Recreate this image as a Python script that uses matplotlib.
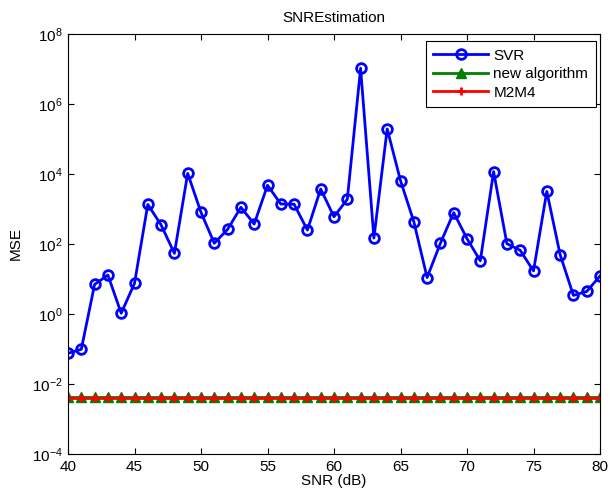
import numpy as np
import matplotlib.pyplot as plt
from matplotlib.ticker import FixedLocator, NullLocator, LogFormatterMathtext

plt.rcParams['font.family'] = ['Liberation Sans', 'DejaVu Sans']
plt.rcParams['mathtext.fontset'] = 'custom'
plt.rcParams['mathtext.rm'] = 'Liberation Sans'

snr = np.arange(40, 81)
mse_svr = [0.075, 0.098, 7.0, 13.0, 1.05, 7.5, 1350, 350, 54, 10400,
           800, 105, 262, 1120, 372, 4760, 1390, 1370, 250, 3720,
           600, 1900, 1.05e7, 148, 1.94e5, 6460, 436, 11, 105, 790,
           142, 33, 11700, 102, 66, 17, 3180, 50, 3.4, 4.4, 12.2]
mse_new = [0.0043] * len(snr)
mse_m2m4 = [0.0041] * len(snr)

W, H = 610, 499
fig = plt.figure(figsize=(W / 100, H / 100), dpi=100)
ax = fig.add_axes([68 / W, 1 - 454 / H, (600 - 68) / W, (454 - 34) / H])

ax.plot(snr, mse_svr, color='#0000ff', lw=2, marker='o', ms=7,
        mfc='none', mec='#0000ff', mew=2, label='SVR')
ax.plot(snr, mse_new, color='#008000', lw=2, marker='^', ms=7,
        mfc='#008000', mec='#008000', label='new algorithm')
ax.plot(snr, mse_m2m4, color='#ff0000', lw=2, marker='+', ms=6,
        mew=2, label='M2M4')

ax.set_yscale('log')
ax.set_xlim(40, 80)
ax.set_ylim(1e-4, 1e8)
ax.set_xticks(np.arange(40, 81, 5))
ax.yaxis.set_major_locator(FixedLocator([1e-4, 1e-2, 1, 1e2, 1e4, 1e6, 1e8]))
ax.yaxis.set_major_formatter(LogFormatterMathtext())
ax.yaxis.set_minor_locator(NullLocator())
ax.tick_params(direction='in', top=True, right=True, labelsize=11,
               length=4, width=0.8)
ax.tick_params(axis='x', pad=4)
ax.tick_params(axis='y', pad=4)
for s in ax.spines.values():
    s.set_linewidth(0.8)

ax.set_title('SNREstimation', fontsize=11, pad=9)
ax.set_xlabel('SNR (dB)', fontsize=11, labelpad=0)
ax.set_ylabel('MSE', fontsize=11, labelpad=6)

leg = ax.legend(loc='upper right', fontsize=11, fancybox=False,
                edgecolor='black', framealpha=1, handlelength=3.6,
                bbox_to_anchor=(596 / W, 1 - 41 / H),
                bbox_transform=fig.transFigure, borderaxespad=0,
                labelspacing=0.3, borderpad=0.5, handletextpad=0.35)
leg.get_frame().set_linewidth(0.8)

fig.savefig('out.png', dpi=100)
